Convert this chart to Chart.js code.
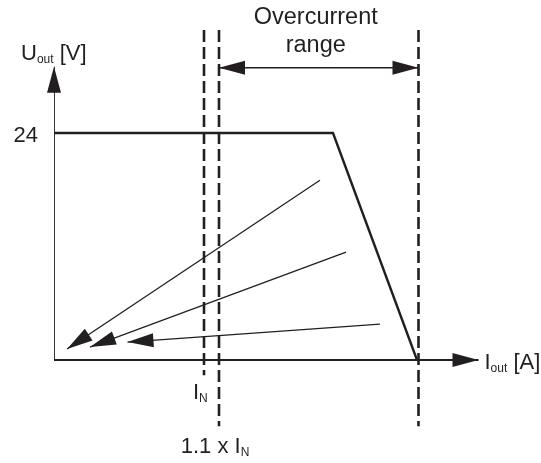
<!DOCTYPE html>
<html>
<head>
<meta charset="utf-8">
<script src="https://cdn.jsdelivr.net/npm/chart.js@4"></script>
<style>
  html, body { margin: 0; padding: 0; background: #ffffff; }
  #wrap { width: 541px; height: 463px; position: relative; }
</style>
</head>
<body>
<div id="wrap"><canvas id="chart"></canvas></div>
<script>
// Output characteristic of a power supply with foldback in the overcurrent range.
// Current is expressed in multiples of the rated current I_N, voltage in volts.
const ratedCurrent = 1.0;        // I_N
const limitStart = 1.1;          // 1.1 x I_N
const limitEnd = 2.43;           // end of the overcurrent range
const nominalVoltage = 24;

const characteristicX = [0, 1.86, 2.42];
const characteristicY = [nominalVoltage, nominalVoltage, 0];

// Load lines that fold back towards the origin
const foldStartX = [1.773, 1.947, 2.173];
const foldStartY = [19.0, 11.4, 3.8];
const foldEndX = [0.087, 0.24, 0.49];
const foldEndY = [1.16, 1.37, 1.9];

// Axis extents (arrow tips)
const axisMaxX = 2.83;
const axisMaxY = 31.0;

// Vertical marker extents
const markerTop = 34.9;
const ratedMarkerBottom = -1.6;
const limitMarkerBottom = -7.0;
const rangeArrowY = 30.9;

const ink = '#231f20';
const font = '"Liberation Sans", Arial, Helvetica, sans-serif';

function seg(xs, ys) { return xs.map((x, i) => ({ x, y: ys[i] })); }

const datasets = [];
function addLine(points, opts) {
  datasets.push(Object.assign({
    data: points,
    showLine: true,
    borderColor: ink,
    backgroundColor: ink,
    pointRadius: 0,
    borderWidth: 1.5,
    fill: false,
    tension: 0,
    borderCapStyle: 'butt',
    borderJoinStyle: 'miter'
  }, opts));
}

// axes
addLine(seg([0, 0], [0, axisMaxY]), { borderWidth: 1.8, arrowEnd: true });
addLine(seg([0, axisMaxX], [0, 0]), { borderWidth: 1.8, arrowEnd: true });
// dashed markers
addLine(seg([ratedCurrent, ratedCurrent], [markerTop, ratedMarkerBottom]), { borderWidth: 2.6, borderDash: [12, 5] });
addLine(seg([limitStart, limitStart], [markerTop, limitMarkerBottom]), { borderWidth: 2.6, borderDash: [12, 5] });
addLine(seg([limitEnd, limitEnd], [markerTop, limitMarkerBottom]), { borderWidth: 2.6, borderDash: [12, 5] });
// overcurrent range arrow
addLine(seg([limitStart, limitEnd], [rangeArrowY, rangeArrowY]), { borderWidth: 1.6, arrowStart: true, arrowEnd: true });
// output characteristic
addLine(seg(characteristicX, characteristicY), { borderWidth: 2.4 });
// foldback arrows
for (let i = 0; i < foldStartX.length; i++) {
  addLine(seg([foldStartX[i], foldEndX[i]], [foldStartY[i], foldEndY[i]]), { borderWidth: 1.3, arrowEnd: true });
}

function drawHead(ctx, tip, from, len, half) {
  const dx = tip.x - from.x, dy = tip.y - from.y;
  const d = Math.hypot(dx, dy);
  const ux = dx / d, uy = dy / d;
  const bx = tip.x - ux * len, by = tip.y - uy * len;
  ctx.beginPath();
  ctx.moveTo(tip.x, tip.y);
  ctx.lineTo(bx - uy * half, by + ux * half);
  ctx.lineTo(bx + uy * half, by - ux * half);
  ctx.closePath();
  ctx.fill();
}

const arrowHeads = {
  id: 'arrowHeads',
  afterDatasetsDraw(chart) {
    const ctx = chart.ctx;
    const xs = chart.scales.x, ys = chart.scales.y;
    ctx.save();
    ctx.fillStyle = ink;
    chart.data.datasets.forEach(ds => {
      const pts = ds.data.map(p => ({ x: xs.getPixelForValue(p.x), y: ys.getPixelForValue(p.y) }));
      const n = pts.length;
      if (ds.arrowEnd) drawHead(ctx, pts[n - 1], pts[n - 2], 26, 7);
      if (ds.arrowStart) drawHead(ctx, pts[0], pts[1], 26, 7);
    });
    ctx.restore();
  }
};

// text made of runs: [text, size, baseline shift]
function richText(ctx, x, y, runs, align) {
  let total = 0;
  runs.forEach(r => { ctx.font = r[1] + 'px ' + font; total += ctx.measureText(r[0]).width; });
  let cx = align === 'center' ? x - total / 2 : (align === 'right' ? x - total : x);
  runs.forEach(r => {
    ctx.font = r[1] + 'px ' + font;
    ctx.fillText(r[0], cx, y + (r[2] || 0));
    cx += ctx.measureText(r[0]).width;
  });
}

const labels = {
  id: 'labels',
  afterDraw(chart) {
    const ctx = chart.ctx;
    const xs = chart.scales.x, ys = chart.scales.y;
    const px = v => xs.getPixelForValue(v), py = v => ys.getPixelForValue(v);
    ctx.save();
    ctx.fillStyle = ink;
    ctx.textBaseline = 'alphabetic';
    ctx.textAlign = 'left';
    // y axis title
    richText(ctx, px(0) - 33, py(axisMaxY) - 7, [['U', 22], ['out', 12, 3], [' [V]', 22]], 'left');
    // nominal voltage
    richText(ctx, px(0) - 16, py(nominalVoltage) + 9, [[String(nominalVoltage), 22]], 'right');
    // x axis title
    richText(ctx, px(axisMaxX) + 6, py(0) + 9, [['I', 22], ['out', 12, 3], [' [A]', 22]], 'left');
    // marker labels
    richText(ctx, px(ratedCurrent) - 11, py(0) + 39, [['I', 22], ['N', 12, 3]], 'left');
    richText(ctx, px(limitStart) - 4, py(0) + 93, [['1.1 x I', 22], ['N', 12, 3]], 'center');
    // overcurrent range title
    const mid = (px(limitStart) + px(limitEnd)) / 2 - 3;
    richText(ctx, mid, py(rangeArrowY) - 44, [['Overcurrent', 23.5]], 'center');
    richText(ctx, mid, py(rangeArrowY) - 16, [['range', 23.5]], 'center');
    ctx.restore();
  }
};

new Chart(document.getElementById('chart'), {
  type: 'scatter',
  data: { datasets },
  options: {
    responsive: true,
    maintainAspectRatio: false,
    animation: false,
    layout: { padding: { left: 54, right: 7, top: 19.5, bottom: 8.4 } },
    plugins: { legend: { display: false }, tooltip: { enabled: false }, title: { display: false } },
    scales: {
      x: { type: 'linear', min: 0, max: 3.2, display: false },
      y: { type: 'linear', min: -10, max: 36, display: false }
    },
    elements: { line: { borderJoinStyle: 'miter' } }
  },
  plugins: [arrowHeads, labels]
});
</script>
</body>
</html>
